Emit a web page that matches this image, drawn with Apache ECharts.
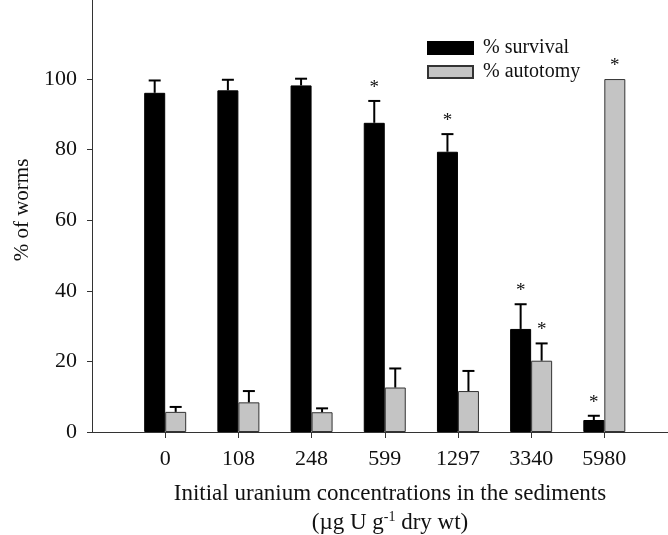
<!DOCTYPE html>
<html>
<head>
<meta charset="utf-8">
<script src="https://cdn.jsdelivr.net/npm/echarts@6/dist/echarts.min.js"></script>
<style>html,body{margin:0;padding:0;background:#fff}#c{width:668px;height:535px}</style>
</head>
<body>
<div id="c"></div>
<script>
// ---- data ----
const categories = ['0', '108', '248', '599', '1297', '3340', '5980'];
const survival    = [96.1, 96.8, 98.2, 87.6, 79.4, 29.2, 3.4];
const survivalErr = [3.5, 3.0, 1.9, 6.2, 5.0, 7.0, 1.2];
const survivalSig = [0, 0, 0, 1, 1, 1, 1];
const autotomy    = [5.7, 8.4, 5.6, 12.6, 11.6, 20.2, 100];
const autotomyErr = [1.4, 3.2, 1.1, 5.4, 5.7, 4.9, 0];
const autotomySig = [0, 0, 0, 0, 0, 1, 1];
const yTicks = [0, 20, 40, 60, 80, 100];

const FONT = 'Liberation Serif';
const BAR_W = 21;
const positions = categories.map((c, i) => i + 1);

const survData = survival.map((v, i) => [positions[i], v]);
const autoData = autotomy.map((v, i) => [positions[i], v]);
const errData = [];
survival.forEach((v, i) => errData.push([positions[i], v, survivalErr[i], survivalSig[i], -1]));
autotomy.forEach((v, i) => errData.push([positions[i], v, autotomyErr[i], autotomySig[i], 1]));

const chart = echarts.init(document.getElementById('c'), null, {renderer: 'canvas'});
chart.setOption({
  animation: false,
  backgroundColor: '#fff',
  grid: {left: 92, right: 0, top: 0, bottom: 103, containLabel: false},
  title: {
    left: 385, top: 474, textAlign: 'center',
    text: 'Initial uranium concentrations in the sediments\n(µg U g{sup|-1} dry wt)',
    textStyle: {
      fontFamily: FONT, fontSize: 23, fontWeight: 'normal', color: '#111', lineHeight: 29,
      rich: {sup: {fontFamily: FONT, fontSize: 14, color: '#111', verticalAlign: 'top', lineHeight: 15, padding: [2, 0, 0, 0]}}
    }
  },
  legend: {
    orient: 'vertical', left: 427, top: 38, padding: 0, itemWidth: 45, itemHeight: 12, itemGap: 4,
    icon: 'rect',
    data: ['% survival', '% autotomy'],
    textStyle: {fontFamily: FONT, fontSize: 20, color: '#111', padding: [0, 0, 0, 5]}
  },
  xAxis: {
    type: 'value', min: 0, max: 7.87, interval: 1,
    splitLine: {show: false},
    axisLine: {show: true, lineStyle: {color: '#333', width: 1}},
    axisTick: {show: true, length: 6, customValues: positions, lineStyle: {color: '#333'}},
    axisLabel: {
      customValues: positions, margin: 16,
      fontFamily: FONT, fontSize: 22, color: '#111',
      formatter: v => categories[Math.round(v) - 1] || ''
    }
  },
  yAxis: {
    type: 'value', min: 0, max: 122.4, interval: 20,
    name: '% of worms', nameLocation: 'middle', nameGap: 58, nameRotate: 90,
    nameTextStyle: {fontFamily: FONT, fontSize: 21, color: '#111', padding: [0, 0, 0, 12]},
    splitLine: {show: false},
    axisLine: {show: true, lineStyle: {color: '#333', width: 1}},
    axisTick: {show: true, length: 5, customValues: yTicks, lineStyle: {color: '#333'}},
    axisLabel: {customValues: yTicks, margin: 15, fontFamily: FONT, fontSize: 22, color: '#111'}
  },
  series: [
    {
      name: '% survival', type: 'bar', data: survData, barWidth: BAR_W, barGap: '0%',
      itemStyle: {color: '#000', borderColor: '#000', borderWidth: 1}
    },
    {
      name: '% autotomy', type: 'bar', data: autoData, barWidth: BAR_W, barGap: '0%',
      itemStyle: {color: '#c4c4c4', borderColor: '#333', borderWidth: 1}
    },
    {
      name: 'err', type: 'custom', data: errData, clip: false, z: 5,
      renderItem: function (params, api) {
        const x = api.value(0), y = api.value(1), e = api.value(2), sig = api.value(3), side = api.value(4);
        const base = api.coord([x, y]);
        const top = api.coord([x, y + e]);
        const cx = base[0] + side * BAR_W / 2;
        const children = [];
        if (e > 0) {
          children.push({type: 'line', shape: {x1: cx, y1: base[1], x2: cx, y2: top[1]}, style: {stroke: '#000', lineWidth: 2}});
          children.push({type: 'line', shape: {x1: cx - 6, y1: top[1], x2: cx + 6, y2: top[1]}, style: {stroke: '#000', lineWidth: 2}});
        }
        if (sig) {
          children.push({type: 'text', x: cx, y: top[1] - 13, style: {text: '*', fontFamily: FONT, fontSize: 19, fill: '#111', align: 'center', verticalAlign: 'middle'}});
        }
        return {type: 'group', children: children};
      }
    }
  ]
});
</script>
</body>
</html>
